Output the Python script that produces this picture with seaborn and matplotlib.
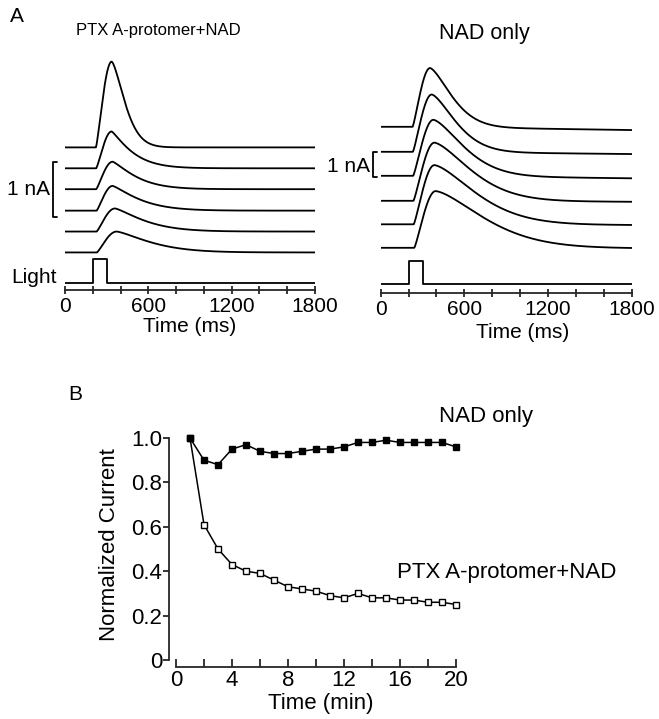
import numpy as np
import pandas as pd
import seaborn as sns
import matplotlib.pyplot as plt

# ---- panel A: whole-cell current sweeps (nA vs ms) ----
# left: PTX A-protomer + NAD, six sweeps top to bottom
left_base = [2.46, 2.08, 1.70, 1.31, 0.93, 0.55]
left_amp = [1.56, 0.67, 0.50, 0.45, 0.42, 0.38]
left_onset = [223, 225, 225, 228, 228, 230]
left_peak = [336, 336, 343, 343, 360, 372]
left_decay = [128, 175, 205, 235, 265, 313]
left_shape = [1.5, 1.2, 1.25, 1.25, 1.3, 1.35]
left_drift = [0, 0, 0, 0, 0, 0]

# right: NAD only
right_base = [6.30, 5.30, 4.34, 3.34, 2.40, 1.46]
right_amp = [2.36, 2.30, 2.25, 2.33, 2.37, 2.27]
right_onset = [229, 231, 233, 235, 237, 241]
right_peak = [354, 366, 378, 385, 385, 394]
right_decay = [212, 235, 295, 358, 406, 470]
right_shape = [1.5, 1.5, 1.5, 1.5, 1.5, 1.5]
right_drift = [-0.13, -0.09, -0.10, -0.04, -0.03, -0.02]

light_times = [0, 200, 200, 300, 300, 1800]
light_level = [0, 0, 1, 1, 0, 0]
light_height = {"left": 0.425, "right": 0.93}

# ---- panel B: normalized current vs time ----
minutes = list(range(1, 21))
nad_only = [1.00, 0.90, 0.88, 0.95, 0.97, 0.94, 0.93, 0.93, 0.94, 0.95,
            0.95, 0.96, 0.98, 0.98, 0.99, 0.98, 0.98, 0.98, 0.98, 0.96]
ptx_nad = [1.00, 0.61, 0.50, 0.43, 0.40, 0.39, 0.36, 0.33, 0.32, 0.31,
           0.29, 0.28, 0.30, 0.28, 0.28, 0.27, 0.27, 0.26, 0.26, 0.25]

W, H = 659, 719
t = np.arange(0, 1801, 2.0)


def sweep(base, amp, t0, tp, w, p, drift):
    y = np.zeros_like(t)
    rise = (t >= t0) & (t <= tp)
    y[rise] = np.sin(np.pi / 2 * (t[rise] - t0) / (tp - t0)) ** 1.2
    dec = t > tp
    y[dec] = np.exp(-((t[dec] - tp) / w) ** p)
    y = amp * y + drift * np.clip((t - t0) / (1800 - t0), 0, 1)
    return base + y


def sweeps_frame(base, amp, onset, peak, decay, shape, drift):
    frames = []
    for i in range(len(base)):
        y = sweep(base[i], amp[i], onset[i], peak[i], decay[i], shape[i], drift[i])
        frames.append(pd.DataFrame({"t": t, "current": y, "sweep": i}))
    return pd.concat(frames, ignore_index=True)


def fx(px):
    return px / W


def fy(py):
    return 1 - py / H


sns.set_theme(style="ticks")
plt.rcParams["font.family"] = ["Liberation Sans", "DejaVu Sans"]
plt.rcParams["text.color"] = "black"
plt.rcParams["axes.labelcolor"] = "black"
plt.rcParams["xtick.color"] = "black"
plt.rcParams["ytick.color"] = "black"

fig = plt.figure(figsize=(W / 100, H / 100), dpi=100)

ax_l = fig.add_axes([fx(65), fy(290), 250 / W, 240 / H])
ax_r = fig.add_axes([fx(380.7), fy(293), 251 / W, 238 / H])
ax_b = fig.add_axes([fx(176), fy(660), 280 / W, 222 / H])

panels = [
    (ax_l, sweeps_frame(left_base, left_amp, left_onset, left_peak, left_decay, left_shape, left_drift),
     light_height["left"], (-0.133, 4.231), 0.5, -0.1125),
    (ax_r, sweeps_frame(right_base, right_amp, right_onset, right_peak, right_decay, right_shape, right_drift),
     light_height["right"], (-0.348, 9.172), 0.567, -0.126),
]

for ax, df, lh, ylim, lab_x, lab_y in panels:
    sns.lineplot(data=df, x="t", y="current", units="sweep", estimator=None,
                 color="black", lw=1.3, ax=ax)
    sns.lineplot(x=light_times, y=[v * lh for v in light_level], sort=False,
                 estimator=None, color="black", lw=1.3, ax=ax)
    ax.set_xlim(0, 1800)
    ax.set_ylim(*ylim)
    sns.despine(ax=ax, left=True)
    ax.set_yticks([])
    ax.set_ylabel("")
    ax.set_xticks([0, 600, 1200, 1800])
    ax.set_xticks(np.arange(0, 1801, 200), minor=True)
    ax.tick_params(axis="x", which="both", direction="inout", length=6, width=1.1,
                   labelsize=15, pad=2)
    ax.spines["bottom"].set_linewidth(1.3)
    ax.set_xlabel("Time (ms)", fontsize=15)
    ax.xaxis.set_label_coords(lab_x, lab_y)
    ax.patch.set_alpha(0)

# 1 nA scale brackets
ax_l.plot([-58, -88, -88, -58], [1.195, 1.195, 2.195, 2.195], color="black", lw=1.3, clip_on=False)
ax_l.text(-108, 1.70, "1 nA", ha="right", va="center", fontsize=15)
ax_l.text(-58, 0.10, "Light", ha="right", va="center", fontsize=15)
ax_r.plot([-27, -55, -55, -27], [4.29, 4.29, 5.29, 5.29], color="black", lw=1.3, clip_on=False)
ax_r.text(-77, 4.70, "1 nA", ha="right", va="center", fontsize=15)

fig.text(fx(17), fy(17), "A", ha="center", va="center", fontsize=15)
fig.text(fx(158.5), fy(30), "PTX A-protomer+NAD", ha="center", va="center", fontsize=12)
fig.text(fx(484), fy(34), "NAD only", ha="center", va="center", fontsize=15.5)

# ---- panel B ----
sns.lineplot(x=minutes, y=ptx_nad, color="black", lw=1.1, marker="s", ms=5,
             markerfacecolor="white", markeredgecolor="black", markeredgewidth=1.0,
             clip_on=False, ax=ax_b)
sns.lineplot(x=minutes, y=nad_only, color="black", lw=1.1, marker="s", ms=5,
             markerfacecolor="black", markeredgecolor="black", markeredgewidth=1.0,
             clip_on=False, ax=ax_b)
ax_b.set_xlim(0, 20)
ax_b.set_ylim(0, 1.0)
sns.despine(ax=ax_b, offset=5)
ax_b.spines["left"].set_bounds(0, 1.0)
ax_b.spines["bottom"].set_bounds(0, 20)
for s in ["left", "bottom"]:
    ax_b.spines[s].set_linewidth(1.3)
ax_b.set_xticks([0, 4, 8, 12, 16, 20])
ax_b.set_xticks(np.arange(0, 21, 2), minor=True)
ax_b.set_yticks([0, 0.2, 0.4, 0.6, 0.8, 1.0])
ax_b.set_yticklabels(["0", "0.2", "0.4", "0.6", "0.8", "1.0"])
ax_b.tick_params(axis="x", which="both", direction="in", length=6, width=1.1, labelsize=16, pad=2)
ax_b.tick_params(axis="y", direction="out", length=4, width=1.1, labelsize=16, pad=1)
ax_b.set_xlabel("Time (min)", fontsize=16)
ax_b.set_ylabel("Normalized Current", fontsize=16)
ax_b.xaxis.set_label_coords(0.518, -0.15)
ax_b.yaxis.set_label_coords(-0.20, 0.518)
ax_b.text(18.8, 1.095, "NAD only", ha="left", va="center", fontsize=16, clip_on=False)
ax_b.text(15.8, 0.392, "PTX A-protomer+NAD", ha="left", va="center", fontsize=16)
ax_b.patch.set_alpha(0)

fig.text(fx(75), fy(395), "B", ha="center", va="center", fontsize=15)

fig.savefig("out.png", dpi=100, facecolor="white")
